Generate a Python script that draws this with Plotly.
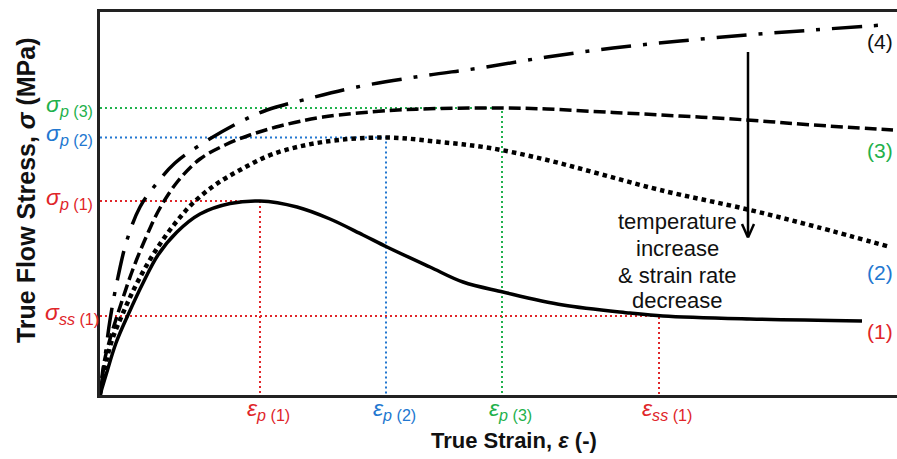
import plotly.graph_objects as go

# ---- data (schematic flow curves, arbitrary units) ----
strain_1 = [0, 0.006, 0.016, 0.028, 0.043, 0.058, 0.077, 0.100, 0.130, 0.160, 0.197, 0.230, 0.263, 0.287,
            0.330, 0.363, 0.403, 0.463, 0.530, 0.563, 0.650, 0.762]
stress_1 = [0, 20, 52, 80, 112, 140, 163, 181, 191.5, 194, 188, 176, 160, 148,
            128, 113, 103, 90, 82, 79, 76, 74]

strain_2 = [0, 0.005, 0.012, 0.023, 0.035, 0.048, 0.062, 0.077, 0.093, 0.115, 0.140, 0.173, 0.223, 0.286,
            0.340, 0.390, 0.447, 0.500, 0.560, 0.650, 0.717, 0.790]
stress_2 = [0, 28, 55, 82, 108, 132, 154, 174, 192, 210, 225, 241, 253, 257.5,
            253, 247, 235, 221, 205, 185, 168, 148]

strain_3 = [0, 0.004, 0.010, 0.020, 0.033, 0.047, 0.060, 0.078, 0.100, 0.125, 0.150, 0.180, 0.223,
            0.290, 0.340, 0.402, 0.447, 0.513, 0.580, 0.647, 0.713, 0.793]
stress_3 = [0, 32, 56, 88, 126, 160, 187, 214, 236, 250, 260, 269, 278,
            284.5, 286.5, 287, 286, 282.5, 279, 275, 270, 265]

strain_4 = [0, 0.004, 0.010, 0.018, 0.027, 0.040, 0.057, 0.075, 0.100, 0.138, 0.167, 0.207, 0.257,
            0.322, 0.380, 0.447, 0.513, 0.580, 0.647, 0.713, 0.783]
stress_4 = [0, 30, 75, 118, 155, 188, 212, 232, 250, 272, 285, 296, 308,
            319, 327, 338, 347, 354, 360, 365, 370]

peak_strain = [0.160, 0.286, 0.402]
peak_stress = [194, 257.5, 287]
ss_strain = 0.559
ss_stress = 79

peak_labels_sigma = ["(1)", "(2)", "(3)"]
curve_labels = ["(1)", "(2)", "(3)", "(4)"]
curve_label_stress = [64, 123, 245, 354]
note_lines = ["temperature", "increase", "&amp; strain rate", "decrease"]
note_stress = [174, 147, 120, 95]

RED = "#E02529"
BLUE = "#2277D0"
GREEN = "#1FB14C"
BLACK = "#111111"
guide_colors = [RED, BLUE, GREEN]
label_colors = [RED, BLUE, GREEN, BLACK]

FONT = "Liberation Sans, Arial, Helvetica, sans-serif"

fig = go.Figure()

# guide lines
for e, s, c in zip(peak_strain, peak_stress, guide_colors):
    fig.add_trace(go.Scatter(x=[0, e, e], y=[s, s, 0], mode="lines",
                             line=dict(color=c, width=2, dash="2px,3px"), hoverinfo="skip"))
fig.add_trace(go.Scatter(x=[0, ss_strain, ss_strain], y=[ss_stress, ss_stress, 0], mode="lines",
                         line=dict(color=RED, width=2, dash="2px,3px"), hoverinfo="skip"))

# curves
fig.add_trace(go.Scatter(x=strain_4, y=stress_4, mode="lines", line_shape="spline",
                         line=dict(color="black", width=3.5, dash="30px,12px,4px,12px")))
fig.add_trace(go.Scatter(x=strain_3, y=stress_3, mode="lines", line_shape="spline",
                         line=dict(color="black", width=3.5, dash="12px,5px")))
fig.add_trace(go.Scatter(x=strain_2, y=stress_2, mode="lines", line_shape="spline",
                         line=dict(color="black", width=4.5, dash="4.5px,4px")))
fig.add_trace(go.Scatter(x=strain_1, y=stress_1, mode="lines", line_shape="spline",
                         line=dict(color="black", width=3.5)))

ann = []
# sigma labels on the y side
for s, lab, c in zip(peak_stress, peak_labels_sigma, guide_colors):
    ann.append(dict(x=0, xref="paper", y=s, yref="y", xanchor="right", yanchor="middle",
                    xshift=-5, yshift=3, showarrow=False,
                    text=f"<i>σ</i><sub><i>p</i> {lab}</sub>", font=dict(size=23, color=c, family=FONT)))
ann.append(dict(x=0, xref="paper", y=ss_stress, yref="y", xanchor="right", yanchor="middle",
                xshift=1, yshift=3, showarrow=False,
                text="<i>σ</i><sub><i>ss</i> (1)</sub>", font=dict(size=23, color=RED, family=FONT)))
# epsilon labels on the x side
for e, lab, c in zip(peak_strain, peak_labels_sigma, guide_colors):
    ann.append(dict(x=e, xref="x", y=0, yref="paper", xanchor="left", yanchor="top",
                    xshift=-15, yshift=2, showarrow=False,
                    text=f"<i>ε</i><sub><i>p</i> {lab}</sub>", font=dict(size=23, color=c, family=FONT)))
ann.append(dict(x=ss_strain, xref="x", y=0, yref="paper", xanchor="left", yanchor="top",
                xshift=-19, yshift=2, showarrow=False,
                text="<i>ε</i><sub><i>ss</i> (1)</sub>", font=dict(size=23, color=RED, family=FONT)))
# curve labels
for lab, s, c in zip(curve_labels, curve_label_stress, label_colors):
    ann.append(dict(x=0.780, xref="x", y=s, yref="y", xanchor="center", yanchor="middle",
                    showarrow=False, text=lab, font=dict(size=21, color=c, family=FONT)))
# explanatory text
for line, s in zip(note_lines, note_stress):
    ann.append(dict(x=0.577, xref="x", y=s, yref="y", xanchor="center", yanchor="middle",
                    showarrow=False, text=line,
                    font=dict(size=22, color="#111111", family=FONT)))
# axis titles
ann.append(dict(x=0.519, xref="paper", y=-0.118, yref="paper", xanchor="center", yanchor="middle",
                showarrow=False, text="<b>True Strain, <i>ε</i> (-)</b>",
                font=dict(size=22, color="#111111", family=FONT)))
ann.append(dict(x=0, xref="paper", y=0.535, yref="paper", xanchor="center", yanchor="middle",
                xshift=-74, textangle=-90, showarrow=False,
                text="<b>True Flow Stress, <i>σ</i> (MPa)</b>",
                font=dict(size=25, color="#111111", family=FONT)))

# arrow (temperature increase direction)
shapes = [
    dict(type="line", xref="x", yref="y", x0=0.648, y0=343, x1=0.648, y1=158,
         line=dict(color="black", width=2.5)),
    dict(type="line", xref="x", yref="y", x0=0.642, y0=171, x1=0.648, y1=157.5,
         line=dict(color="black", width=2.5)),
    dict(type="line", xref="x", yref="y", x0=0.654, y0=171, x1=0.648, y1=157.5,
         line=dict(color="black", width=2.5)),
]

fig.update_layout(
    width=897, height=459,
    margin=dict(l=100, r=0, t=12, b=64),
    plot_bgcolor="white", paper_bgcolor="white",
    showlegend=False,
    annotations=ann,
    shapes=shapes,
    xaxis=dict(range=[0, 0.797], showticklabels=False, showgrid=False, zeroline=False,
               ticks="", showline=True, linecolor="#222222", linewidth=2.5, mirror=True),
    yaxis=dict(range=[0, 383], showticklabels=False, showgrid=False, zeroline=False,
               ticks="", showline=True, linecolor="#222222", linewidth=2.5),
)

fig.write_html("out.html", config={"displayModeBar": False},
               post_script="document.body.style.margin='0';document.body.style.overflow='hidden';")
